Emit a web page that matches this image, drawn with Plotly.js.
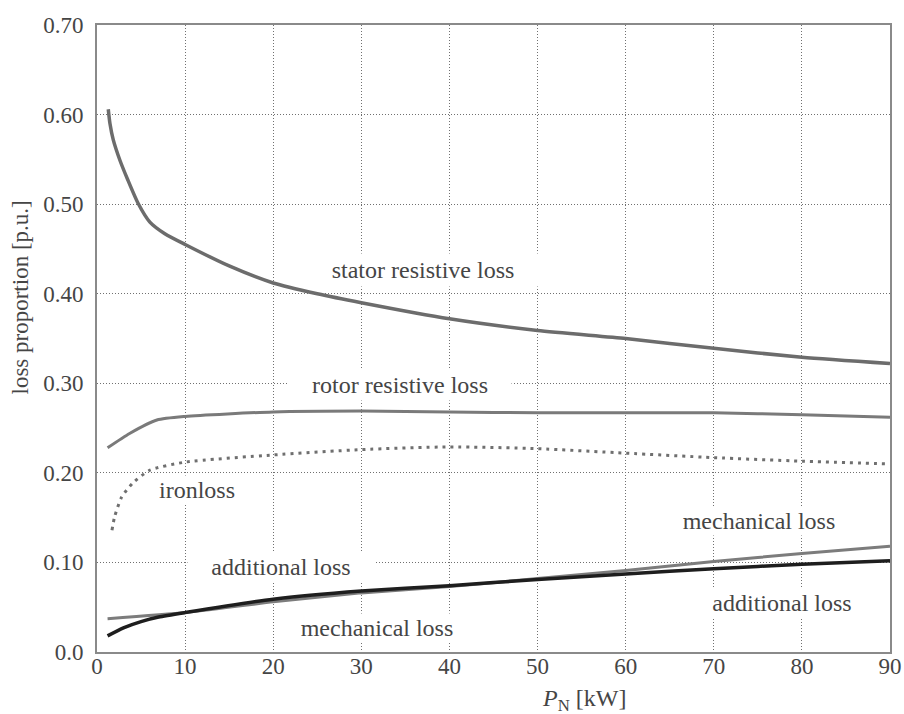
<!DOCTYPE html>
<html>
<head>
<meta charset="utf-8">
<script src="https://cdn.plot.ly/plotly-3.0.1.min.js"></script>
<style>
  html, body { margin: 0; padding: 0; background: #ffffff; }
  #chart { width: 904px; height: 714px; }
</style>
</head>
<body>
<div id="chart"></div>
<script>
// Loss breakdown of induction motors versus rated power P_N (kW), in per-unit of total loss.
const statorP = [1.28, 1.47, 1.84, 2.6, 3.5, 4.66, 6.0, 7.7, 10, 15, 20, 25, 30, 40, 50, 60, 70, 80, 90];
const statorLoss = [0.606, 0.590, 0.572, 0.549, 0.527, 0.501, 0.480, 0.467, 0.455, 0.431, 0.412, 0.400, 0.390, 0.372, 0.359, 0.350, 0.339, 0.329, 0.322];

const rotorP = [1.2, 3.7, 6.8, 10, 20, 30, 40, 50, 60, 70, 80, 90];
const rotorLoss = [0.228, 0.244, 0.259, 0.263, 0.268, 0.269, 0.268, 0.267, 0.267, 0.267, 0.265, 0.262];

const ironP = [1.7, 2, 2.8, 4.1, 6, 10, 20, 30, 40, 50, 60, 70, 80, 90];
const ironLoss = [0.136, 0.151, 0.173, 0.189, 0.203, 0.212, 0.220, 0.226, 0.229, 0.227, 0.222, 0.217, 0.213, 0.210];

const mechP = [1.2, 10, 20, 30, 40, 50, 60, 70, 80, 90];
const mechLoss = [0.037, 0.044, 0.056, 0.066, 0.073, 0.082, 0.091, 0.101, 0.110, 0.118];

const addP = [1.2, 3, 5, 7, 10, 20, 30, 40, 50, 60, 70, 80, 90];
const addLoss = [0.018, 0.027, 0.034, 0.039, 0.044, 0.059, 0.068, 0.074, 0.081, 0.087, 0.093, 0.098, 0.102];

const xTicks = [0, 10, 20, 30, 40, 50, 60, 70, 80, 90];
const yTicks = [0, 0.1, 0.2, 0.3, 0.4, 0.5, 0.6, 0.7];
const yTickText = ['0.0', '0.10', '0.20', '0.30', '0.40', '0.50', '0.60', '0.70'];

const serif = 'Liberation Serif, Times New Roman, serif';
const textGrey = '#454545';

const traces = [
  { x: statorP, y: statorLoss, mode: 'lines', name: 'stator resistive loss',
    line: { color: '#6c6c6c', width: 3.5, shape: 'spline', smoothing: 0.6 } },
  { x: rotorP, y: rotorLoss, mode: 'lines', name: 'rotor resistive loss',
    line: { color: '#7a7a7a', width: 3, shape: 'spline', smoothing: 0.6 } },
  { x: ironP, y: ironLoss, mode: 'lines', name: 'ironloss',
    line: { color: '#6f6f6f', width: 3, dash: '3px,5px', shape: 'spline', smoothing: 0.6 } },
  { x: mechP, y: mechLoss, mode: 'lines', name: 'mechanical loss',
    line: { color: '#7c7c7c', width: 3, shape: 'spline', smoothing: 0.5 } },
  { x: addP, y: addLoss, mode: 'lines', name: 'additional loss',
    line: { color: '#1e1e1e', width: 3.5, shape: 'spline', smoothing: 0.6 } }
];

function curveLabel(text, x, y, w, h) {
  return {
    text: text, x: x, y: y, xref: 'x', yref: 'y', showarrow: false,
    xanchor: 'center', yanchor: 'middle', width: w, height: h,
    bgcolor: '#ffffff', borderpad: 0,
    font: { family: serif, size: 24, color: textGrey }
  };
}

const layout = {
  width: 904, height: 714,
  margin: { l: 97, r: 14, t: 25, b: 62 },
  paper_bgcolor: '#ffffff', plot_bgcolor: '#ffffff',
  showlegend: false,
  xaxis: {
    range: [0, 90], tickvals: xTicks, ticks: '', ticklabelstandoff: -8,
    showgrid: true, gridcolor: '#707070', gridwidth: 1, griddash: '1px,2px',
    zeroline: false, showline: true, mirror: true, linecolor: '#8a8a8a', linewidth: 2,
    tickfont: { family: serif, size: 23, color: textGrey }
  },
  yaxis: {
    range: [0, 0.7], tickvals: yTicks, ticktext: yTickText, ticks: '', ticklabelstandoff: 7,
    showgrid: true, gridcolor: '#707070', gridwidth: 1, griddash: '1px,2px',
    zeroline: false, showline: true, mirror: true, linecolor: '#8a8a8a', linewidth: 2,
    tickfont: { family: serif, size: 23, color: textGrey }
  },
  annotations: [
    curveLabel('stator resistive loss', 37.0, 0.426, 230, 32),
    curveLabel('rotor resistive loss', 34.4, 0.298, 222, 30),
    curveLabel('ironloss', 11.4, 0.181, 96, 28),
    curveLabel('additional loss', 20.9, 0.095, 186, 30),
    curveLabel('mechanical loss', 31.8, 0.027, 178, 28),
    curveLabel('mechanical loss', 75.1, 0.146, 184, 28),
    curveLabel('additional loss', 77.7, 0.055, 170, 28),
    {
      text: 'loss proportion [p.u.]', xref: 'paper', yref: 'paper',
      x: -0.0966, y: 0.566, showarrow: false, textangle: -90,
      xanchor: 'center', yanchor: 'middle',
      font: { family: serif, size: 23, color: textGrey }
    },
    {
      text: '<i>P</i><sub>N</sub> [kW]', xref: 'paper', yref: 'paper',
      x: 0.6135, y: -0.0766, showarrow: false,
      xanchor: 'center', yanchor: 'middle',
      font: { family: serif, size: 24, color: textGrey }
    }
  ]
};

Plotly.newPlot('chart', traces, layout, { displayModeBar: false, staticPlot: true });
</script>
</body>
</html>
